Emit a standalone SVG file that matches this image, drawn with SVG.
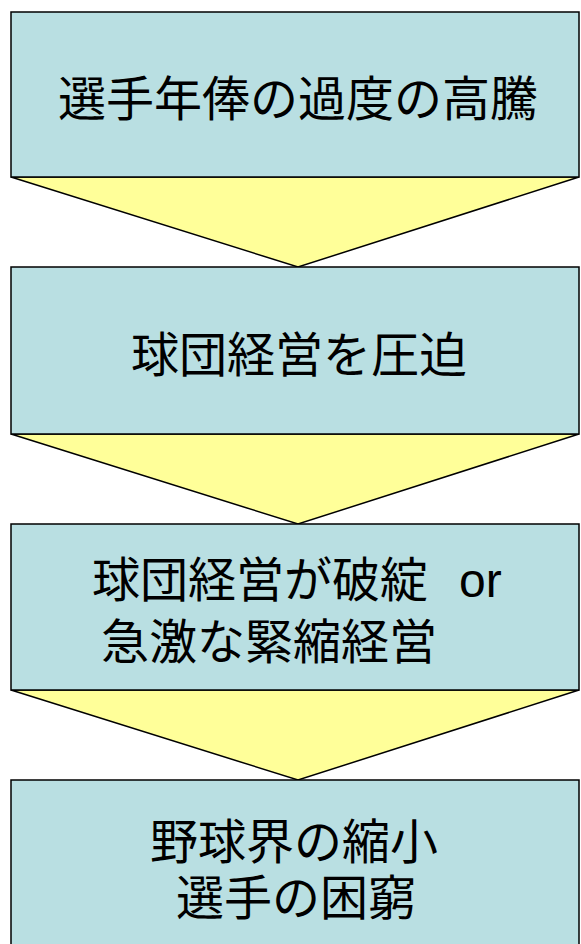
<svg xmlns="http://www.w3.org/2000/svg" width="581" height="944" viewBox="0 0 581 944">
<style>
.box{fill:#B9DFE2;stroke:#000;stroke-width:1.5}
.arr{fill:#FFFF99;stroke:#000;stroke-width:1.5;stroke-linejoin:miter}
.t{font-family:"Liberation Sans","Noto Sans CJK JP",sans-serif;font-size:48px;fill:#000}
.c{text-anchor:middle}
</style>
<rect width="581" height="944" fill="#fff"/>
<g id="connectors">
<polygon class="arr" points="11,177 579,177 298,267"/>
<polygon class="arr" points="11,434 579,434 298,524"/>
<polygon class="arr" points="11,690 579,690 298,780"/>
</g>
<g id="n1">
<rect class="box" x="11" y="12" width="568" height="165"/>
<text class="t c" x="298" y="116">選手年俸の過度の高騰</text>
</g>
<g id="n2">
<rect class="box" x="11" y="267" width="568" height="167"/>
<text class="t c" x="299" y="372">球団経営を圧迫</text>
</g>
<g id="n3">
<rect class="box" x="11" y="524" width="568" height="166"/>
<text class="t" x="92" y="597">球団経営が破綻<tspan x="459">or</tspan></text>
<text class="t" x="101" y="659">急激な緊縮経営</text>
</g>
<g id="n4">
<rect class="box" x="11" y="780" width="568" height="170"/>
<text class="t c" x="294" y="859">野球界の縮小</text>
<text class="t c" x="296" y="915">選手の困窮</text>
</g>
</svg>
